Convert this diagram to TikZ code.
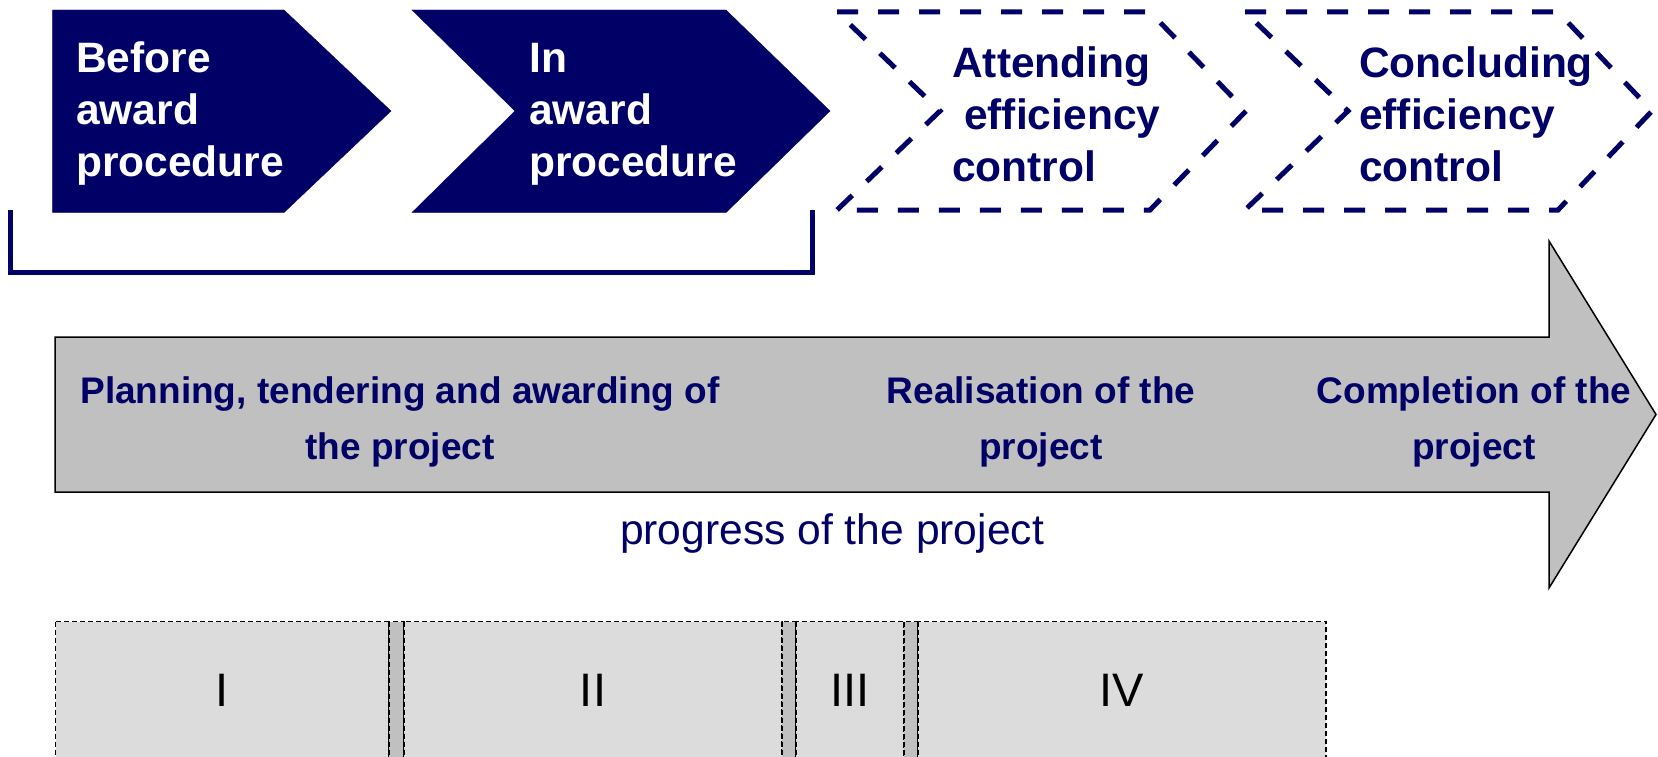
\documentclass[tikz,border=0pt]{standalone}
\usepackage{fontspec}
\setmainfont{Liberation Sans}
\definecolor{projblue}{RGB}{0,0,102}
\definecolor{arrowgray}{RGB}{192,192,192}
\definecolor{phasegray}{RGB}{220,220,220}

\begin{document}
\begin{tikzpicture}[x=1pt,y=-1pt,
    solidchev/.style ={fill=projblue, draw=projblue},
    dashchev/.style ={draw=projblue, line width=5pt, dash pattern=on 21pt off 20pt},
    chevtext/.style ={anchor=west, align=left, inner sep=0pt, font=\fontsize{42.5}{52}\selectfont\bfseries},
    arrowtext/.style ={align=center, inner sep=0pt, text=projblue, font=\fontsize{37}{56}\selectfont\bfseries},
    phasebox/.style ={fill=phasegray, draw=black, line width=1.2pt, dash pattern=on 5pt off 3pt},
    phasegap/.style ={fill=arrowgray, draw=black, line width=1.2pt, dash pattern=on 5pt off 3pt},
    numeral/.style ={inner sep=0pt, font=\fontsize{47}{56}\selectfont}]

   \useasboundingbox (0,0) rectangle (1658,757);

   \fill[solidchev] (52.6,10) -- (284,10) -- (391,111) -- (284,212.5) -- (52.6,212.5) -- cycle;
   \fill[solidchev] (412,10) -- (726,10) -- (830,111) -- (726,212.5) -- (412,212.5) -- (515,111) -- cycle;
   \draw[dashchev] (837,12) -- (1150,12) -- (1246,111) -- (1150,210) -- (837,210) -- (940,111) -- cycle;
   \draw[dashchev] (1245,12) -- (1558,12) -- (1652,111) -- (1558,210) -- (1245,210) -- (1348,111) -- cycle;

   \node[chevtext, text=white] (before) at (76,114) {Before\\award\\procedure};
   \node[chevtext, text=white] (inaward) at (529,114) {In\\award\\procedure};
   \node[chevtext, text=projblue] (attending) at (952,114) {Attending\\\hspace*{12pt}efficiency\\control};
   \node[chevtext, text=projblue] (concluding) at (1359,114) {Concluding\\efficiency\\control};

   \draw[projblue, line width=5pt] (10,210) -- (10,272) -- (812,272) -- (812,210);

   \draw[fill=arrowgray, line width=1.5pt] (55,337) -- (1549,337) -- (1549,241) -- (1656,414.5)
      -- (1549,588) -- (1549,492) -- (55,492) -- cycle;

   \node[arrowtext] (planning) at (400,422) {Planning, tendering and awarding of\\the project};
   \node[arrowtext] (realisation) at (1041,422) {Realisation of the\\project};
   \node[arrowtext] (completion) at (1474,422) {Completion of the\\project};
   \node[text=projblue, inner sep=0pt, font=\fontsize{42.6}{50}\selectfont] (progress) at (832,533) {progress of the project};

   \draw[phasebox] (55.5,621.7) rectangle (389,775);
   \draw[phasegap] (389,621.7) rectangle (404,775);
   \draw[phasebox] (404,621.7) rectangle (782,775);
   \draw[phasegap] (782,621.7) rectangle (796,775);
   \draw[phasebox] (796,621.7) rectangle (904,775);
   \draw[phasegap] (904,621.7) rectangle (918,775);
   \draw[phasebox] (918,621.7) rectangle (1326,775);

   \node[numeral] (one) at (222,690) {I};
   \node[numeral] (two) at (593,690) {II};
   \node[numeral] (three) at (850,690) {III};
   \node[numeral] (four) at (1122,690) {IV};
 \end{tikzpicture}
\end{document}
